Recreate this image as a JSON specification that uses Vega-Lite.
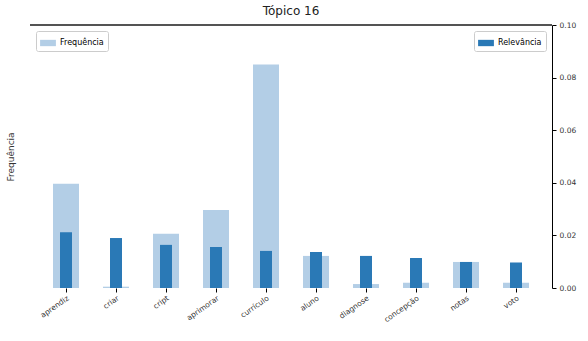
{
  "$schema": "https://vega.github.io/schema/vega-lite/v6.json",
  "width": 522,
  "height": 263,
  "autosize": "none",
  "padding": {"left": 30, "top": 25, "right": 36, "bottom": 53},
  "title": {"text": "Tópico 16", "fontSize": 12, "fontWeight": "normal", "font": "DejaVu Sans", "offset": 3, "color": "#222"},
  "config": {
    "font": "DejaVu Sans",
    "view": {"stroke": null},
    "axis": {"labelFont": "DejaVu Sans", "titleFont": "DejaVu Sans", "labelColor": "#333", "titleColor": "#333"}
  },
  "data": {
    "values": [
      {"termo": "aprendiz", "freq": 0.0396, "rel": 0.0212},
      {"termo": "criar", "freq": 0.0005, "rel": 0.0190},
      {"termo": "cript", "freq": 0.0206, "rel": 0.0164},
      {"termo": "aprimorar", "freq": 0.0297, "rel": 0.0156},
      {"termo": "currículo", "freq": 0.0850, "rel": 0.0141},
      {"termo": "aluno", "freq": 0.0122, "rel": 0.0137},
      {"termo": "diagnose", "freq": 0.0015, "rel": 0.0122},
      {"termo": "concepção", "freq": 0.0020, "rel": 0.0114},
      {"termo": "notas", "freq": 0.0099, "rel": 0.0099},
      {"termo": "voto", "freq": 0.0020, "rel": 0.0097}
    ]
  },
  "layer": [
    {
      "mark": {"type": "bar", "color": "#b3cee6"},
      "encoding": {
        "x": {
          "field": "termo", "type": "nominal", "sort": null,
          "scale": {"paddingInner": 0.48, "paddingOuter": 0.46},
          "axis": {"title": null, "labelAngle": -35, "labelAlign": "right", "labelBaseline": "top", "labelFontSize": 7.5, "domain": false, "ticks": true, "tickColor": "#000", "tickSize": 4, "labelPadding": 2}
        },
        "y": {
          "field": "freq", "type": "quantitative",
          "scale": {"domain": [0, 0.1]},
          "axis": {"orient": "left", "title": "Frequência", "labels": false, "ticks": false, "domain": false, "grid": false, "titleFontWeight": "normal", "titleFontSize": 9, "titlePadding": 15}
        },
        "color": {
          "datum": "Frequência", "type": "nominal",
          "scale": {"range": ["#b3cee6"]},
          "legend": {"title": null, "orient": "top-left", "offset": 6, "symbolType": "M-1,-0.4H1V0.4H-1Z", "symbolSize": 250, "symbolStrokeWidth": 0, "labelFontSize": 8, "strokeColor": "#ccc", "padding": 4, "fillColor": "#fff", "cornerRadius": 2}
        }
      }
    },
    {
      "layer": [
        {
          "mark": {"type": "bar", "color": "#2a79b6", "width": {"band": 0.46}},
          "encoding": {
            "x": {"field": "termo", "type": "nominal", "sort": null},
            "y": {
              "field": "rel", "type": "quantitative",
              "scale": {"domain": [0, 0.1]},
              "axis": {"orient": "right", "title": null, "format": ".2f", "values": [0, 0.02, 0.04, 0.06, 0.08, 0.1], "grid": false, "domainColor": "#000", "tickColor": "#000", "tickSize": 4, "labelFontSize": 7.5, "labelPadding": 3}
            },
            "color": {
              "datum": "Relevância", "type": "nominal",
              "scale": {"range": ["#2a79b6"]},
              "legend": {"title": null, "orient": "top-right", "offset": 6, "symbolType": "M-1,-0.4H1V0.4H-1Z", "symbolSize": 250, "symbolStrokeWidth": 0, "labelFontSize": 8, "strokeColor": "#ccc", "padding": 4, "fillColor": "#fff", "cornerRadius": 2}
            }
          }
        },
        {
          "mark": {"type": "rule", "color": "#555", "strokeWidth": 1},
          "encoding": {"y": {"datum": 0.1, "type": "quantitative"}}
        }
      ]
    }
  ],
  "resolve": {"scale": {"y": "independent", "color": "independent"}, "legend": {"color": "independent"}}
}
